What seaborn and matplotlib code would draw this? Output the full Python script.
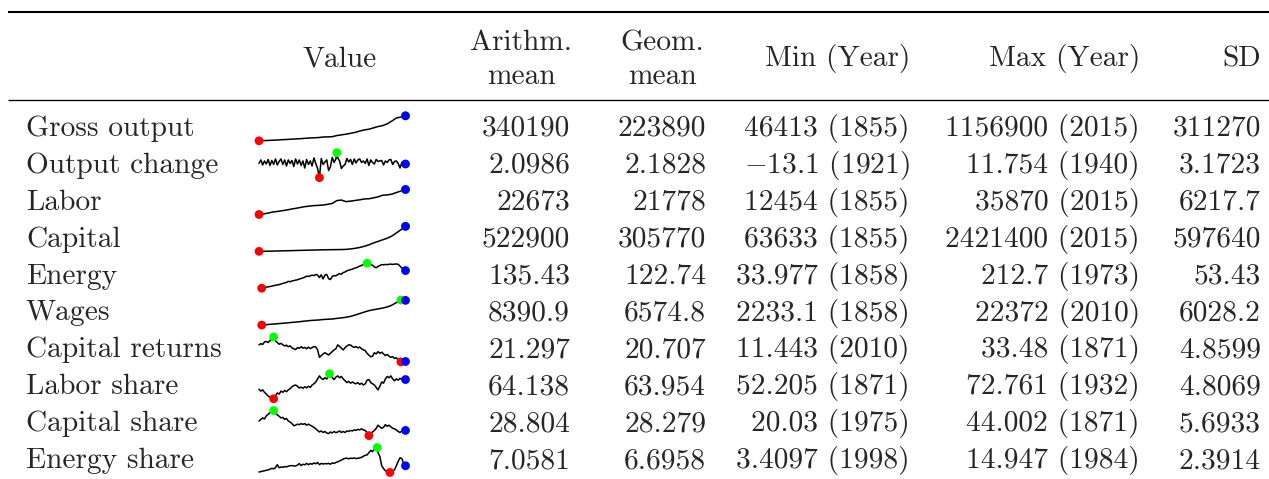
import matplotlib
matplotlib.use("Agg")
import matplotlib.pyplot as plt
import seaborn as sns
import pandas as pd

# ---------------- data ----------------
row_labels = ["Gross output", "Output change", "Labor", "Capital", "Energy",
              "Wages", "Capital returns", "Labor share", "Capital share", "Energy share"]
arith_mean = ["340190", "2.0986", "22673", "522900", "135.43", "8390.9", "21.297", "64.138", "28.804", "7.0581"]
geom_mean = ["223890", "2.1828", "21778", "305770", "122.74", "6574.8", "20.707", "63.954", "28.279", "6.6958"]
sd_vals = ["311270", "3.1723", "6217.7", "597640", "53.43", "6028.2", "4.8599", "4.8069", "5.6933", "2.3914"]
min_val = [46413, -13.1, 12454, 63633, 33.977, 2233.1, 11.443, 52.205, 20.03, 3.4097]
min_year = [1855, 1921, 1855, 1855, 1858, 1858, 2010, 1871, 1975, 1998]
max_val = [1156900, 11.754, 35870, 2421400, 212.7, 22372, 33.48, 72.761, 44.002, 14.947]
max_year = [2015, 1940, 2015, 2015, 1973, 2010, 1871, 1932, 1871, 1984]

years_5 = list(range(1855, 2016, 5))
years_2 = list(range(1855, 2016, 2))

gross_output = [46413, 55000, 62000, 72000, 82000, 95000, 105000, 118000, 128000, 140000,
                155000, 170000, 180000, 190000, 215000, 220000, 230000, 280000, 310000, 340000,
                380000, 420000, 480000, 530000, 560000, 620000, 680000, 720000, 800000, 920000,
                1060000, 1100000, 1156900]
labor = [12454, 13000, 13800, 14800, 15300, 16000, 16600, 17500, 18200, 19000,
         19800, 20300, 20800, 21000, 21300, 22000, 22800, 25500, 26000, 24500,
         25000, 25600, 26200, 27000, 27200, 28000, 29000, 30500, 30800, 31500,
         33000, 34500, 35870]
capital = [63633, 70000, 78000, 88000, 98000, 110000, 120000, 132000, 143000, 155000,
           165000, 178000, 188000, 198000, 208000, 218000, 222000, 228000, 235000, 250000,
           290000, 350000, 430000, 540000, 680000, 850000, 1000000, 1150000, 1300000, 1500000,
           1800000, 2100000, 2421400]
wages = [2400, 2300, 2700, 3000, 3300, 3600, 3900, 4300, 4600, 5000,
         5400, 5800, 6100, 6300, 6700, 6900, 7100, 7600, 8000, 8500,
         9200, 10300, 11500, 12700, 13800, 14600, 15200, 15900, 16800, 18200,
         20300, 22372, 22100]
output_change = [1.0, 4.5, -0.5, 3.5, 0.5, 5.0, -1.0, 4.0, 0.0, 5.5,
                 -0.5, 3.0, 5.5, 0.0, 4.5, -1.5, 4.5, 1.0, 4.0, -2.0,
                 5.5, 0.5, 4.5, -1.0, 3.5, -3.5, 5.0, 0.0, 3.5, -1.5,
                 6.5, 1.0, -4.0, -13.1, 6.0, 0.0, 2.5, 4.5, -6.0, -2.5,
                 7.0, 2.0, 5.5, 6.5, 3.5, -4.0, -1.5, 0.0, 6.0, 2.5,
                 5.0, 0.0, 5.5, 1.5, 4.5, 5.5, 2.0, 3.5, 1.0, 5.5,
                 -1.0, 4.5, 2.0, 0.5, 5.0, 3.0, 3.5, 4.0, -0.5, 3.5,
                 2.0, 4.5, 5.0, 0.0, 3.0, 3.5, 1.0, -3.5, 2.0, 2.5,
                 0.5]
energy = [36, 35, 37, 39, 41, 44, 46, 49, 52, 55,
          57, 60, 64, 68, 72, 75, 83, 80, 86, 88,
          92, 94, 100, 103, 108, 112, 120, 118, 122, 128,
          124, 132, 128, 110, 130, 100, 128, 132, 102, 96,
          118, 124, 122, 132, 138, 134, 146, 150, 158, 163,
          166, 171, 176, 180, 186, 192, 197, 203, 207, 212.7,
          200, 203, 198, 186, 180, 190, 196, 203, 201, 204,
          202, 205, 206, 204, 206, 207, 205, 192, 178, 166,
          160]
capital_returns = [26.5, 27.5, 26.8, 29.0, 29.5, 28.5, 30.5, 31.5, 33.48, 30.0,
                   28.5, 27.0, 27.8, 26.5, 25.5, 26.2, 24.8, 25.6, 23.8, 23.0,
                   22.3, 24.0, 23.5, 24.8, 23.5, 24.2, 23.0, 24.5, 23.2, 24.0,
                   25.0, 24.5, 22.0, 15.5, 17.0, 18.5, 19.5, 18.5, 17.5, 19.0,
                   20.5, 22.0, 23.0, 26.5, 25.0, 23.5, 22.0, 24.0, 25.5, 26.5,
                   26.3, 25.0, 24.2, 25.0, 23.8, 24.5, 23.0, 22.0, 21.5, 19.0,
                   17.5, 16.0, 16.5, 19.5, 18.5, 20.5, 19.0, 20.0, 18.5, 17.0,
                   18.0, 16.5, 15.5, 16.0, 14.5, 15.0, 13.5, 12.0, 11.8, 11.6,
                   11.8]
labor_share = [60.0, 58.5, 59.5, 57.5, 56.0, 54.5, 53.5, 53.0, 52.205, 54.5,
               57.0, 56.0, 58.5, 57.5, 59.0, 58.0, 59.5, 60.5, 62.0, 63.0,
               63.5, 62.5, 61.0, 61.8, 60.8, 62.0, 61.2, 62.5, 61.5, 63.5,
               64.5, 66.0, 68.5, 71.0, 69.0, 68.0, 69.5, 68.5, 70.5, 71.5,
               69.5, 68.0, 70.0, 71.0, 69.5, 70.5, 68.5, 67.0, 65.5, 66.5,
               65.0, 66.0, 65.0, 64.5, 65.5, 64.0, 65.0, 63.5, 64.5, 67.5,
               68.0, 65.5, 64.5, 63.5, 61.5, 59.5, 62.5, 66.0, 65.0, 68.5,
               70.5, 69.5, 71.0, 68.5, 67.0, 68.5, 67.5, 69.0, 68.0, 68.5,
               68.0]
capital_share = [34.0, 35.5, 37.0, 36.0, 39.0, 40.5, 42.0, 43.0, 44.002, 41.5,
                 40.0, 38.5, 37.0, 37.5, 35.5, 36.5, 34.0, 33.0, 31.5, 29.5,
                 30.0, 31.0, 30.5, 31.5, 30.8, 31.5, 30.0, 31.0, 30.0, 29.0,
                 28.0, 26.5, 25.0, 23.5, 24.5, 23.0, 24.0, 22.5, 22.0, 23.5,
                 22.5, 24.0, 22.8, 23.5, 24.5, 23.0, 24.0, 23.0, 24.5, 24.0,
                 25.0, 24.5, 25.5, 25.0, 26.0, 25.5, 26.5, 25.5, 25.0, 23.0,
                 20.03, 22.5, 23.5, 25.0, 27.0, 30.0, 28.5, 27.0, 28.0, 30.5,
                 29.0, 30.0, 28.5, 27.0, 26.5, 25.5, 24.0, 23.0, 24.5, 24.0,
                 25.0]
energy_share = [3.6, 3.8, 4.0, 4.2, 4.4, 4.6, 4.9, 5.3, 5.1, 5.6,
                7.0, 5.6, 5.9, 5.8, 6.1, 6.0, 6.3, 6.5, 6.6, 6.4,
                6.4, 6.8, 7.5, 6.6, 7.2, 6.9, 7.6, 7.0, 7.5, 7.2,
                7.8, 7.4, 8.0, 7.0, 7.6, 7.3, 7.5, 7.4, 7.6, 7.2,
                7.8, 7.6, 8.0, 8.3, 8.7, 9.1, 9.6, 9.9, 10.0, 9.7,
                10.0, 9.9, 10.1, 9.8, 10.0, 10.1, 10.4, 10.9, 11.3, 11.5,
                12.5, 13.6, 13.0, 14.2, 14.0, 12.5, 10.8, 6.5, 5.2, 4.2,
                3.8, 3.6, 3.6, 4.0, 4.6, 6.5, 8.5, 10.2, 9.8, 7.5,
                6.5]

series = [(years_5, gross_output), (years_2, output_change), (years_5, labor),
          (years_5, capital), (years_2, energy), (years_5, wages),
          (years_2, capital_returns), (years_2, labor_share),
          (years_2, capital_share), (years_2, energy_share)]

# ---------------- style ----------------
sns.set_theme(style="white")
plt.rcParams["font.family"] = "cmr10"
plt.rcParams["mathtext.fontset"] = "cm"
plt.rcParams["axes.unicode_minus"] = False

W, H = 1269, 479
FS = 21.2
fig = plt.figure(figsize=(W / 100, H / 100), dpi=100)
ax = fig.add_axes([0, 0, 1, 1])
ax.set_xlim(0, W)
ax.set_ylim(H, 0)
ax.axis("off")

def fmt(v):
    return str(v).replace("-", "$-$")

# rules
ax.hlines(12, 8, W, color="black", lw=1.5)
ax.hlines(100, 8, W, color="black", lw=0.95)

# header
ax.text(340, 66, "Value", ha="center", va="baseline", fontsize=FS)
ax.text(521, 50, "Arithm.", ha="center", va="baseline", fontsize=FS)
ax.text(521, 84, "mean", ha="center", va="baseline", fontsize=FS)
ax.text(662, 50, "Geom.", ha="center", va="baseline", fontsize=FS)
ax.text(662, 84, "mean", ha="center", va="baseline", fontsize=FS)
ax.text(910, 66, "Min (Year)", ha="right", va="baseline", fontsize=FS)
ax.text(1140, 66, "Max (Year)", ha="right", va="baseline", fontsize=FS)
ax.text(1261, 66, "SD", ha="right", va="baseline", fontsize=FS)

row_step = 36.9
for i, lab in enumerate(row_labels):
    yb = 136 + row_step * i
    ax.text(26, yb, lab, ha="left", va="baseline", fontsize=FS)
    ax.text(570, yb, arith_mean[i], ha="right", va="baseline", fontsize=FS)
    ax.text(706, yb, geom_mean[i], ha="right", va="baseline", fontsize=FS)
    ax.text(910, yb, f"{fmt(min_val[i])} ({min_year[i]})", ha="right", va="baseline", fontsize=FS)
    ax.text(1140, yb, f"{fmt(max_val[i])} ({max_year[i]})", ha="right", va="baseline", fontsize=FS)
    ax.text(1261, yb, sd_vals[i], ha="right", va="baseline", fontsize=FS)

# sparklines
x0, x1 = 259.0, 405.5
for i, (yrs, vals) in enumerate(series):
    pts = {y: v for y, v in zip(yrs, vals)}
    pts[min_year[i]] = min_val[i]
    pts[max_year[i]] = max_val[i]
    df = pd.DataFrame(sorted(pts.items()), columns=["year", "value"])
    y_top = 115.8 + 36.85 * i
    sax = fig.add_axes([x0 / W, 1 - (y_top + 25) / H, (x1 - x0) / W, 25 / H])
    sax.patch.set_visible(False)
    sns.lineplot(data=df, x="year", y="value", ax=sax, color="black",
                 linewidth=1.1, estimator=None, sort=True)
    last_year, last_val = yrs[-1], vals[-1]
    sns.scatterplot(x=[min_year[i]], y=[min_val[i]], ax=sax, color="#ff0000",
                    s=40, edgecolor="none", zorder=3, clip_on=False)
    sns.scatterplot(x=[max_year[i]], y=[max_val[i]], ax=sax, color="#00ff00",
                    s=40, edgecolor="none", zorder=3, clip_on=False)
    sns.scatterplot(x=[last_year], y=[last_val], ax=sax, color="#0000ff",
                    s=40, edgecolor="none", zorder=4, clip_on=False)
    sax.set_xlim(1855, 2015)
    sax.set_ylim(min_val[i], max_val[i])
    sax.axis("off")
    for ln in sax.lines:
        ln.set_clip_on(False)

fig.savefig("out.png", dpi=100)
